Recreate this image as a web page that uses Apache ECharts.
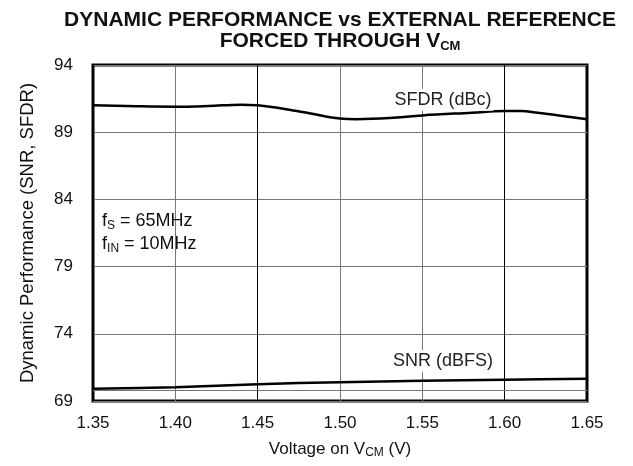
<!DOCTYPE html>
<html>
<head>
<meta charset="utf-8">
<script src="https://cdn.jsdelivr.net/npm/echarts@6/dist/echarts.min.js"></script>
<style>
html,body{margin:0;padding:0;background:#fff;}
#chart{width:633px;height:466px;}
</style>
</head>
<body>
<div id="chart"></div>
<script>
// Data
const sfdrVoltage = [1.35, 1.37, 1.40, 1.42, 1.44, 1.45, 1.46, 1.47, 1.48, 1.49, 1.50, 1.51, 1.53, 1.55, 1.58, 1.60, 1.61, 1.62, 1.63, 1.64, 1.65];
const sfdrValues  = [91.0, 90.95, 90.9, 90.95, 91.05, 91.0, 90.85, 90.65, 90.45, 90.2, 90.02, 89.97, 90.05, 90.25, 90.45, 90.58, 90.58, 90.45, 90.3, 90.13, 89.96];
const snrVoltage = [1.35, 1.40, 1.45, 1.50, 1.55, 1.60, 1.65];
const snrValues  = [69.92, 70.03, 70.25, 70.4, 70.5, 70.58, 70.66];
const xTickLabels = ['1.35', '1.40', '1.45', '1.50', '1.55', '1.60', '1.65'];
const yTickLabels = ['69', '74', '79', '84', '89', '94'];
const extraGridValue = [69.8];
const labelSFDR = 'SFDR (dBc)';
const labelSNR = 'SNR (dBFS)';

const FONT = '"Liberation Sans", Arial, Helvetica, sans-serif';
const chart = echarts.init(document.getElementById('chart'), null, {renderer: 'canvas'});

const zip = (xs, ys) => xs.map((x, i) => [x, ys[i]]);

const option = {
  backgroundColor: '#fff',
  animation: false,
  textStyle: {fontFamily: FONT, color: '#000'},
  title: {
    left: 335,
    top: 5,
    textAlign: 'center',
    text: '{b|DYNAMIC PERFORMANCE vs EXTERNAL REFERENCE}\n{b|FORCED THROUGH V}{s|CM}',
    textStyle: {
      rich: {
        b: {fontFamily: FONT, fontWeight: 'bold', fontSize: 21, color: '#111', lineHeight: 21},
        s: {fontFamily: FONT, fontWeight: 'bold', fontSize: 13, color: '#111', lineHeight: 13, padding: [9, 0, 0, 0]}
      }
    }
  },
  grid: {left: 93, right: 46, top: 65, bottom: 65, show: true, borderColor: '#000', borderWidth: 3, backgroundColor: 'transparent'},
  xAxis: {
    type: 'value', min: 1.35, max: 1.65, interval: 0.05,
    axisLine: {show: false}, axisTick: {show: false},
    axisLabel: {
      fontFamily: FONT, fontSize: 17, color: '#111', margin: 14,
      formatter: (v) => { const s = v.toFixed(2); return xTickLabels.includes(s) ? s : ''; }
    },
    splitLine: {show: true, lineStyle: {width: 1, color: ['#000', '#777', '#000', '#777', '#777', '#000', '#000']}},
    name: 'Voltage on {n|V}{s|CM} (V)',
    nameLocation: 'middle', nameGap: 38,
    nameTextStyle: {
      fontFamily: FONT, fontSize: 17, color: '#111',
      rich: {
        n: {fontFamily: FONT, fontSize: 17, color: '#111'},
        s: {fontFamily: FONT, fontSize: 12, color: '#111', padding: [8, 0, 0, 0]}
      }
    }
  },
  yAxis: {
    type: 'value', min: 69, max: 94, interval: 5,
    axisLine: {show: false}, axisTick: {show: false},
    axisLabel: {
      fontFamily: FONT, fontSize: 17, color: '#111', margin: 20,
      formatter: (v) => { const s = String(Math.round(v)); return yTickLabels.includes(s) ? s : ''; }
    },
    splitLine: {show: true, lineStyle: {width: 1, color: '#777'}},
    name: 'Dynamic Performance (SNR, SFDR)',
    nameLocation: 'middle', nameGap: 56, nameRotate: 90,
    nameTextStyle: {fontFamily: FONT, fontSize: 18.5, color: '#111'}
  },
  series: [
    {
      name: 'SFDR', type: 'line', data: zip(sfdrVoltage, sfdrValues), smooth: 0.4,
      showSymbol: false, symbol: 'none',
      lineStyle: {color: '#000', width: 2.5},
      markPoint: {
        symbol: 'circle', symbolSize: 0, silent: true,
        data: [
          {coord: [1.5626, 91.41], label: {show: true, position: 'inside', formatter: labelSFDR, fontFamily: FONT, fontSize: 18, color: '#222', backgroundColor: '#fff', padding: [2, 2]}},
          {coord: [1.3555, 82.4], label: {show: true, position: 'right', distance: 0, formatter: '{m|f}{s|S}{m| = 65MHz}',
            rich: {m: {fontFamily: FONT, fontSize: 18, color: '#111'}, s: {fontFamily: FONT, fontSize: 12, color: '#111', padding: [9, 0, 0, 0]}}}},
          {coord: [1.3555, 80.65], label: {show: true, position: 'right', distance: 0, formatter: '{m|f}{s|IN}{m| = 10MHz}',
            rich: {m: {fontFamily: FONT, fontSize: 18, color: '#111'}, s: {fontFamily: FONT, fontSize: 12, color: '#111', padding: [9, 0, 0, 0]}}}}
        ]
      }
    },
    {
      name: 'SNR', type: 'line', data: zip(snrVoltage, snrValues), smooth: 0.3,
      showSymbol: false, symbol: 'none',
      lineStyle: {color: '#000', width: 2.5},
      markLine: {
        silent: true, symbol: ['none', 'none'], label: {show: false},
        lineStyle: {color: '#777', width: 1, type: 'solid'},
        data: extraGridValue.map(v => ({yAxis: v}))
      },
      markPoint: {
        symbol: 'circle', symbolSize: 0, silent: true,
        data: [
          {coord: [1.5626, 71.98], label: {show: true, position: 'inside', formatter: labelSNR, fontFamily: FONT, fontSize: 18, color: '#222', backgroundColor: '#fff', padding: [2, 2]}}
        ]
      }
    }
  ]
};
chart.setOption(option);
</script>
</body>
</html>
